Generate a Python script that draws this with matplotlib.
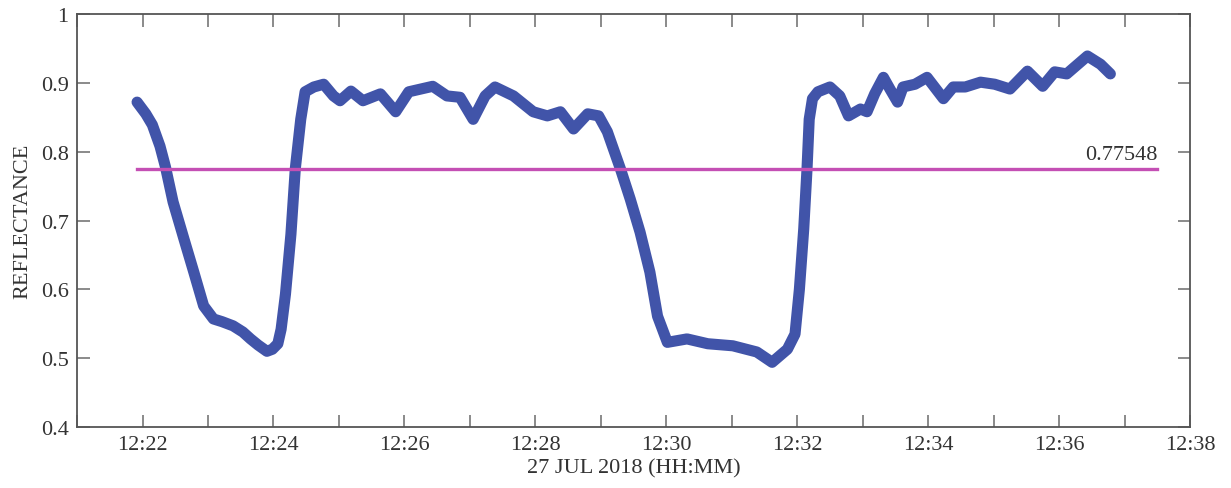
import numpy as np
import pandas as pd
import matplotlib
matplotlib.use("Agg")
import matplotlib.pyplot as plt
import matplotlib.dates as mdates

# reflectance readings, 27 Jul 2018
times = ["12:21:55", "12:22:03", "12:22:09", "12:22:16", "12:22:21", "12:22:28",
         "12:22:38", "12:22:47", "12:22:56", "12:23:05", "12:23:13", "12:23:23",
         "12:23:32", "12:23:39", "12:23:46", "12:23:54", "12:23:59", "12:24:04",
         "12:24:07", "12:24:11", "12:24:16", "12:24:20", "12:24:25", "12:24:29",
         "12:24:37", "12:24:46", "12:24:55", "12:25:01", "12:25:11", "12:25:22",
         "12:25:38", "12:25:52", "12:26:04", "12:26:15", "12:26:26", "12:26:39",
         "12:26:51", "12:27:03", "12:27:14", "12:27:23", "12:27:40", "12:27:58",
         "12:28:11", "12:28:23", "12:28:35", "12:28:48", "12:28:58", "12:29:06",
         "12:29:18", "12:29:27", "12:29:36", "12:29:45", "12:29:52", "12:30:01",
         "12:30:19", "12:30:38", "12:31:01", "12:31:23", "12:31:37", "12:31:51",
         "12:31:58", "12:32:02", "12:32:06", "12:32:09", "12:32:11", "12:32:14",
         "12:32:19", "12:32:30", "12:32:39", "12:32:47", "12:32:58", "12:33:04",
         "12:33:11", "12:33:19", "12:33:25", "12:33:32", "12:33:37", "12:33:48",
         "12:33:59", "12:34:14", "12:34:23", "12:34:34", "12:34:48", "12:35:01",
         "12:35:15", "12:35:31", "12:35:45", "12:35:56", "12:36:07", "12:36:26",
         "12:36:38", "12:36:47"]
reflectance = [0.872, 0.855, 0.839, 0.808, 0.778, 0.727,
               0.673, 0.625, 0.576, 0.557, 0.553, 0.547,
               0.538, 0.528, 0.519, 0.510, 0.513, 0.521,
               0.542, 0.593, 0.680, 0.775, 0.847, 0.887,
               0.894, 0.898, 0.881, 0.874, 0.888, 0.874,
               0.884, 0.858, 0.887, 0.891, 0.895, 0.881,
               0.879, 0.847, 0.881, 0.894, 0.881, 0.858,
               0.852, 0.858, 0.833, 0.855, 0.852, 0.829,
               0.775, 0.731, 0.683, 0.625, 0.561, 0.523,
               0.528, 0.521, 0.518, 0.509, 0.494, 0.513,
               0.535, 0.600, 0.688, 0.775, 0.847, 0.877,
               0.887, 0.894, 0.881, 0.852, 0.862, 0.858,
               0.884, 0.908, 0.891, 0.872, 0.894, 0.898,
               0.908, 0.877, 0.894, 0.894, 0.901, 0.898,
               0.891, 0.917, 0.895, 0.916, 0.913, 0.939,
               0.927, 0.913]

threshold = 0.77548
threshold_span = ["12:21:55", "12:37:30"]

day = "2018-07-27 "
t = pd.to_datetime([day + s for s in times])
t_thr = pd.to_datetime([day + s for s in threshold_span])

plt.rcParams["font.family"] = ["Liberation Serif", "DejaVu Serif"]
text_col = "#333333"
fs = 16

fig = plt.figure(figsize=(12.31, 4.89), dpi=100)
ax = fig.add_axes([0.0626, 0.1247, 0.9041, 0.8446])

ax.plot(t, reflectance, color="#4154a9", lw=8, solid_capstyle="round",
        solid_joinstyle="round", zorder=2)
ax.plot(t_thr, [threshold, threshold], color="#c44fb4", lw=2.4, zorder=3)
ax.text(t_thr[1], threshold + 0.006, "%.5f" % threshold, ha="right", va="bottom",
        fontsize=fs, color=text_col)

ax.set_xlim(pd.Timestamp(day + "12:21:00"), pd.Timestamp(day + "12:38:00"))
ax.set_ylim(0.4, 1.0)
ax.set_yticks([0.4, 0.5, 0.6, 0.7, 0.8, 0.9, 1.0])
ax.set_yticklabels(["0.4", "0.5", "0.6", "0.7", "0.8", "0.9", "1"])

ax.xaxis.set_major_locator(mdates.MinuteLocator(byminute=range(0, 60, 2)))
ax.xaxis.set_minor_locator(mdates.MinuteLocator())
ax.xaxis.set_major_formatter(mdates.DateFormatter("%H:%M"))

ax.tick_params(which="both", direction="in", top=True, right=True,
               length=9, width=1.2, color="#777777", labelsize=fs,
               labelcolor=text_col, pad=6)
for s in ax.spines.values():
    s.set_color("#555555")
    s.set_linewidth(1.3)

ax.set_xlabel("27 JUL 2018 (HH:MM)", fontsize=fs, color=text_col, labelpad=3)
ax.set_ylabel("REFLECTANCE", fontsize=fs, color=text_col, labelpad=6)

fig.savefig("out.png", dpi=100)
